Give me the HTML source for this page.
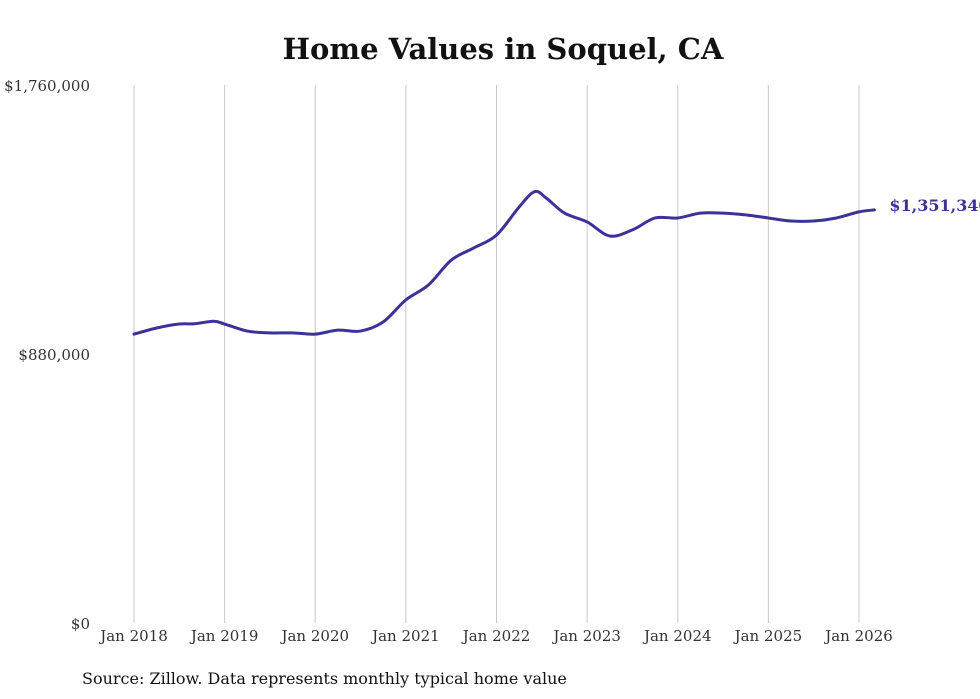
<!DOCTYPE html>
<html><head><meta charset="utf-8"><style>
body{margin:0;background:#fff;}
svg{display:block;font-family:"DejaVu Serif","Liberation Serif",serif;}
</style></head><body>
<svg id="chart" width="980" height="699">
<text x="503" y="59" text-anchor="middle" font-size="29" font-weight="bold" fill="#111">Home Values in Soquel, CA</text>
<g id="grid"></g><g id="yaxis"></g><g id="xaxis"></g><g id="series"></g>
<text x="82" y="684" font-size="16" fill="#111">Source: Zillow. Data represents monthly typical home value</text>
</svg>
<script>
const dates=[2018.0,2018.25,2018.5,2018.67,2018.88,2019.0,2019.25,2019.5,2019.75,2020.0,2020.25,2020.5,2020.75,2021.0,2021.25,2021.5,2021.75,2022.0,2022.25,2022.42,2022.55,2022.75,2023.0,2023.25,2023.5,2023.75,2024.0,2024.25,2024.5,2024.75,2025.0,2025.25,2025.5,2025.75,2026.0,2026.17];
const values=[945000,965000,978000,979000,987000,978000,955000,949000,949000,945000,958000,955000,985000,1057000,1106000,1187000,1227000,1269000,1361000,1411000,1390000,1341000,1312000,1266000,1286000,1325000,1325000,1341000,1341000,1335000,1325000,1315000,1315000,1325000,1345000,1351340];
const yTicks=[0,880000,1760000];
const yTickLabels=["$0","$880,000","$1,760,000"];
const xTicks=[2018,2019,2020,2021,2022,2023,2024,2025,2026];
const xTickLabels=["Jan 2018","Jan 2019","Jan 2020","Jan 2021","Jan 2022","Jan 2023","Jan 2024","Jan 2025","Jan 2026"];
const endLabel="$1,351,340";

const NS="http://www.w3.org/2000/svg";
const X=d=>134+(d-2018)*(859-134)/8;
const Y=v=>623-v*(623-85)/1760000;
function mk(tag,attrs,parent,text){const e=document.createElementNS(NS,tag);for(const k in attrs)e.setAttribute(k,attrs[k]);if(text!==undefined)e.textContent=text;parent.appendChild(e);return e;}
const grid=document.getElementById('grid'),ya=document.getElementById('yaxis'),xa=document.getElementById('xaxis'),ser=document.getElementById('series');
xTicks.forEach((t,i)=>{
  const l=mk('line',{x1:X(t),x2:X(t),y1:85,y2:623,stroke:'#c8c8c8','stroke-width':1},grid);
  
  
  const tx=mk('text',{x:X(t),y:641,'text-anchor':'middle','font-size':15,fill:'#333'},xa,xTickLabels[i]);
  
  
});
yTicks.forEach((t,i)=>{
  const tx=mk('text',{x:90,y:Y(t)+6,'text-anchor':'end','font-size':15,fill:'#333'},ya,yTickLabels[i]);
  
  
});
const pts=dates.map((d,i)=>[X(d),Y(values[i])]);
let dstr=`M${pts[0][0]},${pts[0][1]}`;
for(let i=0;i<pts.length-1;i++){
  const p0=pts[i-1]||pts[i],p1=pts[i],p2=pts[i+1],p3=pts[i+2]||p2;
  const c1=[p1[0]+(p2[0]-p0[0])/6,p1[1]+(p2[1]-p0[1])/6],c2=[p2[0]-(p3[0]-p1[0])/6,p2[1]-(p3[1]-p1[1])/6];
  dstr+=` C${c1[0]},${c1[1]} ${c2[0]},${c2[1]} ${p2[0]},${p2[1]}`;
}
const path=mk('path',{d:dstr,fill:'none',stroke:'#3b3397','stroke-width':3,'stroke-linejoin':'round','stroke-linecap':'round'},ser);


const last=pts[pts.length-1];
const lbl=mk('text',{x:last[0]+15,y:last[1]+1,'font-size':16,'font-weight':'bold',fill:'#3b3397'},ser,endLabel);


</script>
</body></html>
